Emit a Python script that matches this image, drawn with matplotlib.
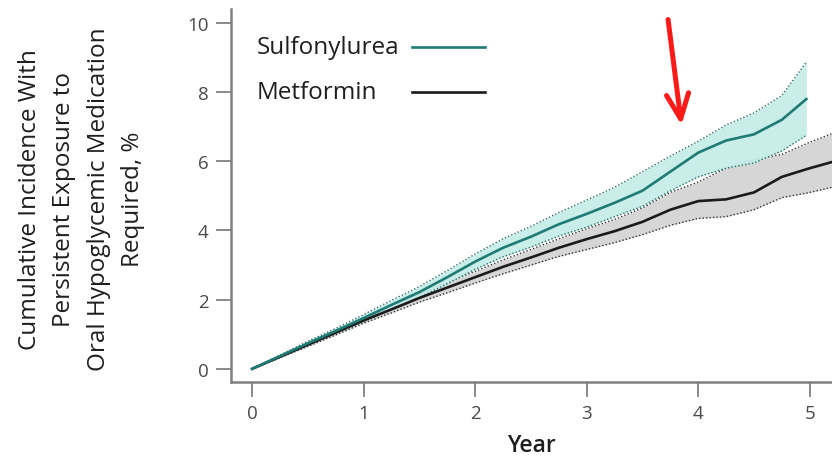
import matplotlib
matplotlib.use("Agg")
import matplotlib.pyplot as plt

plt.rcParams['font.family'] = ['Open Sans', 'DejaVu Sans']

# Cumulative incidence (%) by year, with 95% confidence bands
su_years = [0, 0.25, 0.5, 0.75, 1, 1.25, 1.5, 1.75, 2, 2.25, 2.5, 2.75, 3,
            3.25, 3.5, 3.75, 4, 4.25, 4.5, 4.75, 4.97]
su_mean = [0, 0.37, 0.74, 1.1, 1.47, 1.85, 2.22, 2.65, 3.1, 3.5, 3.82, 4.18,
           4.48, 4.8, 5.15, 5.7, 6.25, 6.6, 6.78, 7.2, 7.8]
su_upper = [0, 0.4, 0.8, 1.17, 1.57, 1.98, 2.38, 2.84, 3.32, 3.76, 4.12, 4.52,
            4.88, 5.25, 5.7, 6.15, 6.58, 7.05, 7.4, 7.9, 8.87]
su_lower = [0, 0.34, 0.68, 1.03, 1.37, 1.72, 2.06, 2.46, 2.88, 3.24, 3.52,
            3.84, 4.1, 4.4, 4.7, 5.15, 5.55, 5.8, 5.95, 6.3, 6.75]

met_years = [0, 0.25, 0.5, 0.75, 1, 1.25, 1.5, 1.75, 2, 2.25, 2.5, 2.75, 3,
             3.25, 3.5, 3.75, 4, 4.25, 4.5, 4.75, 5, 5.2]
met_mean = [0, 0.35, 0.7, 1.05, 1.4, 1.72, 2.05, 2.35, 2.65, 2.95, 3.22, 3.5,
            3.75, 3.98, 4.25, 4.6, 4.85, 4.9, 5.1, 5.55, 5.8, 5.98]
met_upper = [0, 0.38, 0.75, 1.12, 1.48, 1.82, 2.17, 2.5, 2.82, 3.15, 3.45,
             3.76, 4.05, 4.32, 4.65, 5.1, 5.4, 5.8, 6.05, 6.2, 6.55, 6.8]
met_lower = [0, 0.32, 0.65, 0.98, 1.32, 1.62, 1.93, 2.2, 2.48, 2.75, 3.0,
             3.25, 3.45, 3.65, 3.88, 4.15, 4.35, 4.4, 4.6, 4.95, 5.1, 5.25]

x_ticks = [0, 1, 2, 3, 4, 5]
y_ticks = [0, 2, 4, 6, 8, 10]
series_names = ["Sulfonylurea", "Metformin"]

teal = "#1f7b75"
teal_fill = "#c3ebe6"
dark = "#1b1b1b"
grey_fill = "#d6d6d6"
axis_grey = "#808080"
text_dark = "#1e1e1e"

fig = plt.figure(figsize=(8.32, 4.6), dpi=100)
ax = fig.add_axes([0.2776, 0.1674, 0.7224, 0.8106])

# Metformin band
ax.fill_between(met_years, met_lower, met_upper, color=grey_fill, lw=0, zorder=1)
ax.plot(met_years, met_upper, color="#333333", lw=1.0, ls=(0, (1, 1.5)), zorder=2)
ax.plot(met_years, met_lower, color="#333333", lw=1.0, ls=(0, (1, 1.5)), zorder=2)

# Sulfonylurea band
ax.fill_between(su_years, su_lower, su_upper, color=teal_fill, lw=0, alpha=0.9, zorder=3)
ax.plot(su_years, su_upper, color="#2f6f6a", lw=1.0, ls=(0, (1, 1.5)), zorder=4)
ax.plot(su_years, su_lower, color="#2f6f6a", lw=1.0, ls=(0, (1, 1.5)), zorder=4)

# Point estimates
ax.plot(met_years, met_mean, color=dark, lw=1.9, zorder=5)
ax.plot(su_years, su_mean, color=teal, lw=1.9, zorder=6)

ax.set_xlim(-0.19, 5.2)
ax.set_ylim(-0.38, 10.4)
ax.set_xticks(x_ticks)
ax.set_yticks(y_ticks)

for side in ("top", "right"):
    ax.spines[side].set_visible(False)
for side in ("left", "bottom"):
    ax.spines[side].set_color(axis_grey)
    ax.spines[side].set_linewidth(1.8)

ax.tick_params(axis="both", direction="out", length=11, width=1.3,
               color=axis_grey, labelcolor="#4a4a4a", labelsize=13.5, pad=5)

ax.set_xlabel("Year", fontsize=16.5, fontweight="semibold", color=text_dark, labelpad=8)
fig.text(0.098, 0.567,
         "Cumulative Incidence With\nPersistent Exposure to\n"
         "Oral Hypoglycemic Medication\nRequired, %",
         rotation=90, ha="center", va="center", fontsize=17.5,
         fontweight="medium", color=text_dark, linespacing=1.58)

# Legend keys: label followed by a line sample
legend_rows = [(series_names[0], teal, 0.898), (series_names[1], dark, 0.777)]
for name, col, yy in legend_rows:
    ax.text(0.043, yy, name, transform=ax.transAxes, ha="left", va="center",
            fontsize=17.5, fontweight="medium", color=text_dark)
    ax.plot([0.301, 0.423], [yy, yy], transform=ax.transAxes, color=col, lw=1.9)

# Red pointer arrow
ax.annotate("", xy=(3.85, 7.05), xytext=(3.73, 10.1),
            arrowprops=dict(arrowstyle="->,head_length=0.9,head_width=0.4",
                            color="#ff1a1a", lw=3.6, mutation_scale=20,
                            shrinkA=0, shrinkB=0),
            annotation_clip=False)

fig.savefig("out.png", dpi=100)
